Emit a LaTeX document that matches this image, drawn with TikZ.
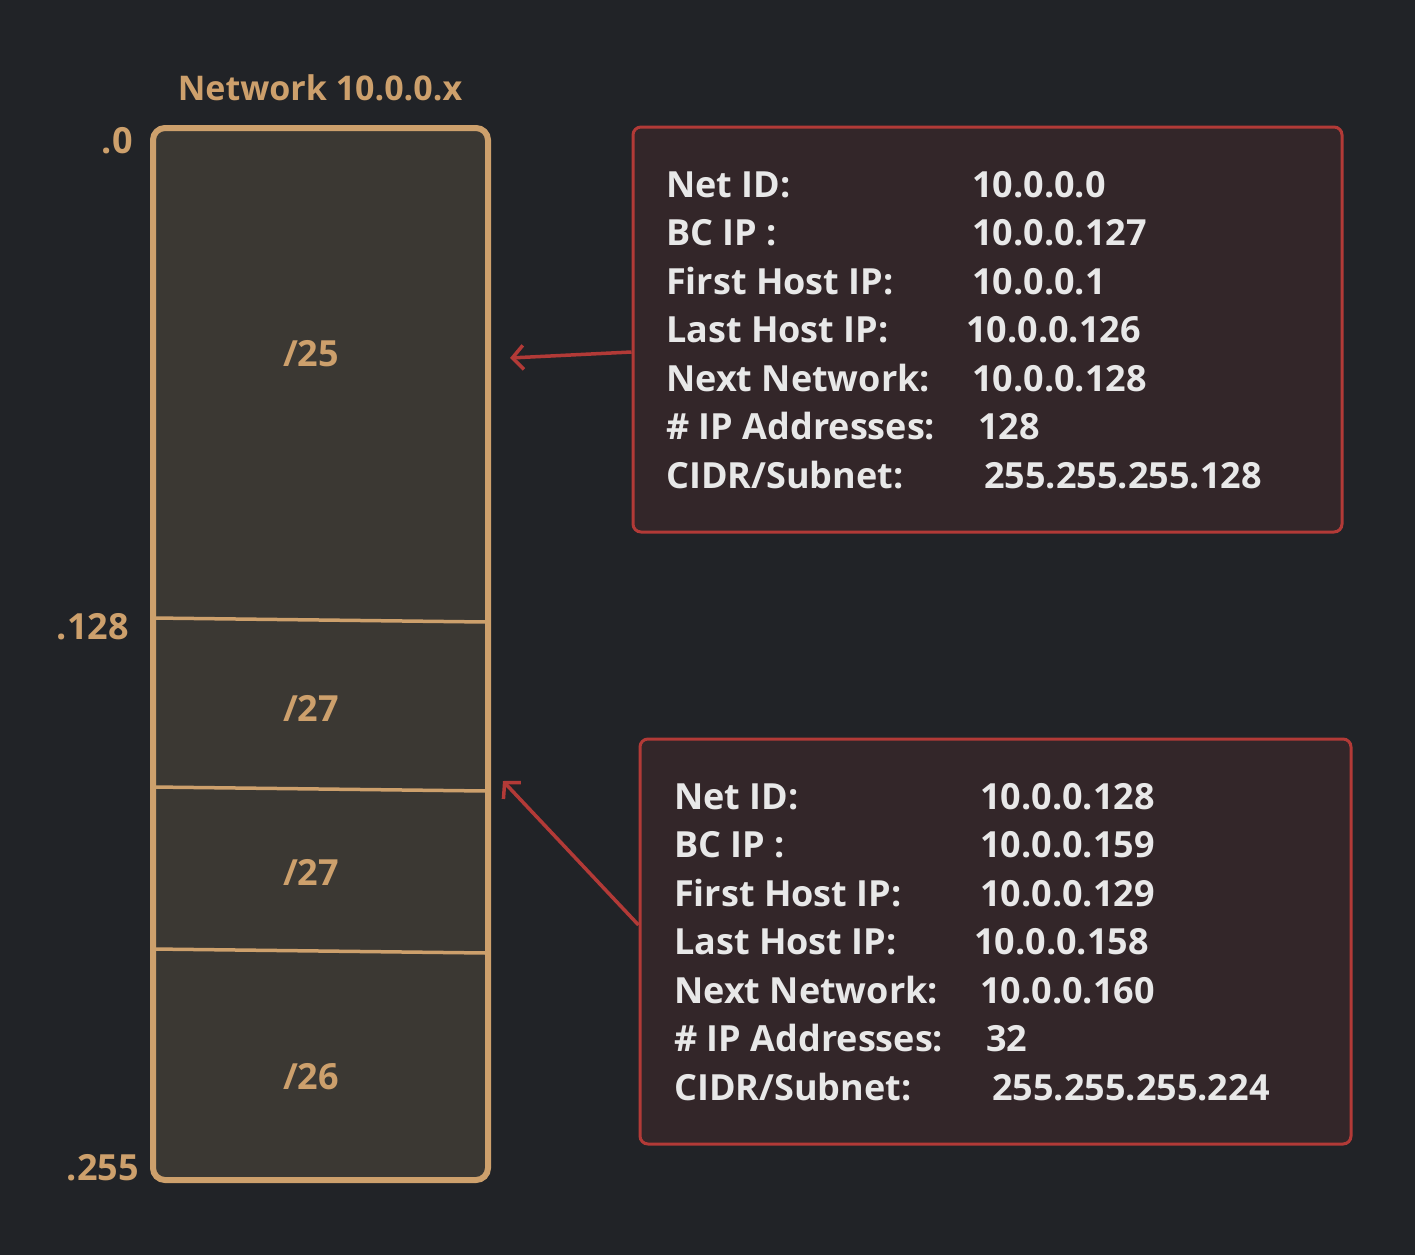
\documentclass[tikz,border=0pt]{standalone}
\usepackage{fontspec}
\setmainfont{Open Sans}
\usepackage{tikz}
\usetikzlibrary{positioning,arrows.meta}
\definecolor{bgdark}{HTML}{212327}
\definecolor{blockfill}{HTML}{3B3833}
\definecolor{tan}{HTML}{CDA06C}
\definecolor{redline}{HTML}{B23A37}
\definecolor{infofill}{HTML}{332629}
\definecolor{textgray}{HTML}{E8E8E8}

\begin{document}
\begin{tikzpicture}[x=1pt, y=-1pt,
    every node/.style={font=\fontsize{36}{44}\selectfont\bfseries},
    block/.style={draw=tan, fill=blockfill, line width=6pt, rounded corners=12pt},
    divider/.style={draw=tan, line width=3.5pt},
    tanlabel/.style={text=tan, inner sep=0pt},
    infobox/.style={draw=redline, fill=infofill, line width=3pt, rounded corners=8pt},
    info/.style={text=textgray, anchor=base west, inner sep=0pt},
    arrow/.style={-{Straight Barb[length=11pt, width=24pt]}, redline, line width=3.5pt}
  ]
  % background
  \fill[bgdark] (0,0) rectangle (1415,1255);
  \useasboundingbox (0,0) rectangle (1415,1255);

  % address block
  \node[tanlabel, font=\fontsize{34}{40}\selectfont\bfseries] (title) at (320,88) {Network 10.0.0.x};
  \node[block, minimum width=335pt, minimum height=1052pt] (net) at (320.5,654) {};
  \draw[divider] (153,618) -- (486,622);
  \draw[divider] (153,787) -- (486,791);
  \draw[divider] (153,949) -- (486,953);

  \node[tanlabel] (s25) at (311,354) {/25};
  \node[tanlabel] (s27a) at (311,708) {/27};
  \node[tanlabel] (s27b) at (311,872) {/27};
  \node[tanlabel] (s26) at (311,1077) {/26};

  \node[tanlabel, anchor=east] (p0) at (133,141) {.0};
  \node[tanlabel, anchor=east] (p128) at (129,627) {.128};
  \node[tanlabel, anchor=east] (p255) at (139,1168) {.255};

  % info boxes
  \node[infobox, minimum width=709pt, minimum height=405pt] (info25) at (987.5,329.5) {};
  \node[infobox, minimum width=711pt, minimum height=405pt] (info27) at (995.5,941.5) {};

  \foreach \lab/\va/\vb/\dx [count=\i from 0] in {
      {Net ID:}/{10.0.0.0}/{10.0.0.128}/306,
      {BC IP :}/{10.0.0.127}/{10.0.0.159}/306,
      {First Host IP:}/{10.0.0.1}/{10.0.0.129}/306,
      {Last Host IP:}/{10.0.0.126}/{10.0.0.158}/300,
      {Next Network:}/{10.0.0.128}/{10.0.0.160}/306,
      {\# IP Addresses:}/{128}/{32}/312,
      {CIDR/Subnet:}/{255.255.255.128}/{255.255.255.224}/318} {
    \node[info] (la\i) at (666,197+48.5*\i) {\lab};
    \node[info] (va\i) at (666+\dx,197+48.5*\i) {\va};
    \node[info] (lb\i) at (674,809+48.5*\i) {\lab};
    \node[info] (vb\i) at (674+\dx,809+48.5*\i) {\vb};
  }

  % arrows
  \coordinate (tip25) at (510,358);
  \coordinate (tip27) at (503,781);
  \draw[arrow] ([yshift=-22.5pt]info25.west) -- (tip25);
  \draw[arrow] ([yshift=16.5pt]info27.west) -- (tip27);
\end{tikzpicture}
\end{document}
